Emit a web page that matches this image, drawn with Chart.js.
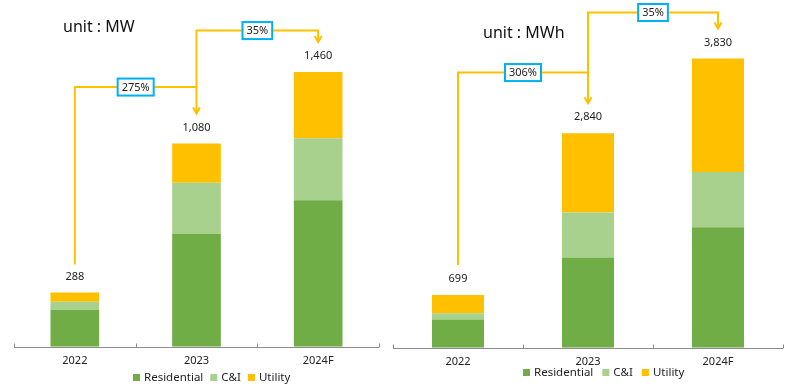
<!DOCTYPE html>
<html>
<head>
<meta charset="utf-8">
<script src="https://cdn.jsdelivr.net/npm/chart.js@4.4.1/dist/chart.umd.min.js"></script>
<style>
  body { margin: 0; background: #fff; }
  #wrap { position: relative; width: 795px; height: 387px; overflow: hidden; }
  canvas { position: absolute; top: 0; }
</style>
</head>
<body>
<div id="wrap">
  <canvas id="mwChart" width="390" height="387" style="left:0"></canvas>
  <canvas id="mwhChart" width="405" height="387" style="left:390px"></canvas>
</div>
<script>
// data
const years = ["2022", "2023", "2024F"];

const mwResidential = [197, 600, 778];
const mwCI = [43, 272, 330];
const mwUtility = [48, 208, 352];
const mwTotals = [288, 1080, 1460];
const mwGrowth = ["275%", "35%"];

const mwhResidential = [375, 1195, 1596];
const mwhCI = [82, 597, 731];
const mwhUtility = [242, 1048, 1503];
const mwhTotals = [699, 2840, 3830];
const mwhGrowth = ["306%", "35%"];

const FONT = '"Noto Sans", "DejaVu Sans", sans-serif';

// axis line, totals, growth arrows, title and legend
const decor = {
    id: "decor",
    afterDatasetsDraw(chart, args, o) {
        const ctx = chart.ctx, x = chart.scales.x, y = chart.scales.y, a = chart.chartArea;
        ctx.save();

        // base line with small upward ticks
        const n = chart.data.labels.length;
        const by = Math.round(a.bottom) + 0.5;
        ctx.strokeStyle = "#8c8c8c";
        ctx.lineWidth = 1;
        ctx.beginPath();
        ctx.moveTo(a.left, by);
        ctx.lineTo(a.right, by);
        for (let i = 0; i <= n; i++) {
            const tx = Math.round(a.left + (a.right - a.left) * i / n) + 0.5;
            ctx.moveTo(tx, by);
            ctx.lineTo(tx, by - 4);
        }
        ctx.stroke();

        // totals
        ctx.font = "11px " + FONT;
        ctx.fillStyle = "#222";
        ctx.textAlign = "center";
        ctx.textBaseline = "middle";
        const labelY = i => y.getPixelForValue(o.totals[i]) - 16;
        o.totals.forEach((t, i) => {
            ctx.fillText(t.toLocaleString("en-US"), x.getPixelForValue(i), labelY(i));
        });

        // growth arrows
        ctx.lineWidth = 2;
        o.growth.forEach((g, i) => {
            const x0 = x.getPixelForValue(i), x1 = x.getPixelForValue(i + 1);
            const ly = y.getPixelForValue(o.levels[i]);
            const y0 = i === 0 ? labelY(0) - o.gapStart : y.getPixelForValue(o.levels[i - 1]);
            const y1 = labelY(i + 1) - o.gapEnd;
            ctx.strokeStyle = "#FFC000";
            ctx.beginPath();
            ctx.moveTo(x0, y0);
            ctx.lineTo(x0, ly);
            ctx.lineTo(x1, ly);
            ctx.lineTo(x1, y1);
            ctx.stroke();
            ctx.beginPath();
            ctx.moveTo(x1 - 3.5, y1 - 6);
            ctx.lineTo(x1, y1);
            ctx.lineTo(x1 + 3.5, y1 - 6);
            ctx.stroke();

            const mx = (x0 + x1) / 2;
            const bw = ctx.measureText(g).width + 8, bh = 17;
            ctx.fillStyle = "#fff";
            ctx.fillRect(mx - bw / 2, ly - bh / 2, bw, bh);
            ctx.strokeStyle = "#00B0F0";
            ctx.strokeRect(mx - bw / 2, ly - bh / 2, bw, bh);
            ctx.fillStyle = "#222";
            ctx.fillText(g, mx, ly + 0.5);
        });

        // unit title
        ctx.font = "16px " + FONT;
        ctx.textAlign = "left";
        ctx.fillStyle = "#111";
        ctx.fillText(o.title, o.titleX, o.titleY);

        // legend
        ctx.font = "11.5px " + FONT;
        let lx = o.legendX;
        chart.data.datasets.forEach(ds => {
            ctx.fillStyle = ds.backgroundColor;
            ctx.fillRect(lx, o.legendY - 4, 7, 7);
            lx += 11;
            ctx.fillStyle = "#222";
            ctx.fillText(ds.label, lx, o.legendY);
            lx += ctx.measureText(ds.label).width + o.legendGap;
        });
        ctx.restore();
    }
};

function makeChart(id, res, ci, util, totals, growth, cfg) {
    return new Chart(document.getElementById(id), {
        type: "bar",
        data: {
            labels: years,
            datasets: [
                { label: "Residential", data: res, backgroundColor: "#70AD47" },
                { label: "C&I", data: ci, backgroundColor: "#A9D18E" },
                { label: "Utility", data: util, backgroundColor: "#FFC000" }
            ]
        },
        options: {
            responsive: false,
            animation: false,
            devicePixelRatio: 1,
            barPercentage: 0.8,
            categoryPercentage: 0.5,
            layout: { padding: cfg.padding },
            scales: {
                x: {
                    stacked: true,
                    grid: { display: false, drawTicks: false },
                    border: { display: false },
                    ticks: { color: "#222", padding: 7, font: { family: FONT, size: 11 } }
                },
                y: { stacked: true, display: false, min: 0, max: cfg.max }
            },
            plugins: {
                legend: { display: false },
                tooltip: { enabled: false },
                decor: Object.assign({ totals: totals, growth: growth }, cfg.decor)
            }
        },
        plugins: [decor]
    });
}

makeChart("mwChart", mwResidential, mwCI, mwUtility, mwTotals, mwGrowth, {
    max: 1800,
    padding: { left: 14, right: 11, top: 8, bottom: 13 },
    decor: {
        levels: [1380, 1680], gapStart: 12, gapEnd: 14,
        title: "unit : MW", titleX: 63, titleY: 27,
        legendX: 133, legendY: 378, legendGap: 7
    }
});

makeChart("mwhChart", mwhResidential, mwhCI, mwhUtility, mwhTotals, mwhGrowth, {
    max: 4500,
    padding: { left: 3, right: 12, top: 8, bottom: 12 },
    decor: {
        levels: [3645, 4440], gapStart: 14, gapEnd: 14,
        title: "unit : MWh", titleX: 93, titleY: 33,
        legendX: 133, legendY: 373, legendGap: 9
    }
});
</script>
</body>
</html>
